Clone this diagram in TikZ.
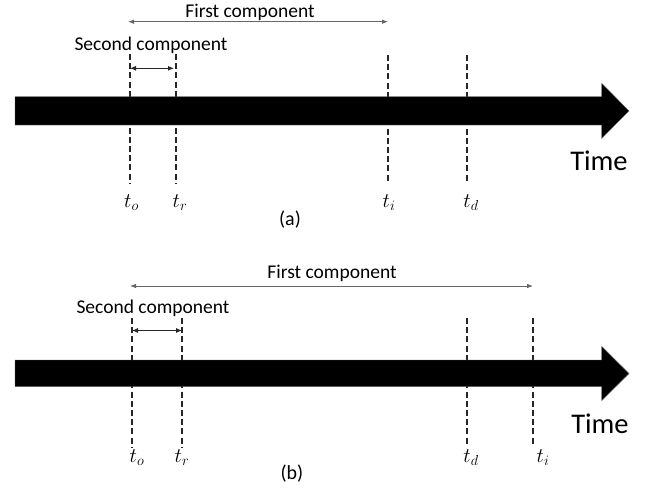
\documentclass[tikz,border=0pt]{standalone}
\usepackage{fontspec}
\setmainfont{Carlito}
\usetikzlibrary{arrows.meta}
\begin{document}
\begin{tikzpicture}[x=1pt,y=-1pt,
  bar/.style={fill=black,draw=black!60,line width=0.4pt},
  guide/.style={draw=black!85,line width=1.5pt,dash pattern=on 6pt off 3.2pt},
  span1/.style={draw=black!60,line width=0.8pt,{Latex[length=6pt,width=4.5pt]}-{Latex[length=6pt,width=4.5pt]}},
  span2/.style={draw=black!85,line width=0.9pt,{Latex[length=6pt,width=5pt]}-{Latex[length=6pt,width=5pt]}},
  lbl/.style={inner sep=0pt,anchor=base,font=\fontsize{19.5}{23}\selectfont},
  tlbl/.style={inner sep=0pt,anchor=base,font=\fontsize{20}{24}\selectfont},
  timelbl/.style={inner sep=0pt,anchor=base,font=\fontsize{28.5}{34}\selectfont},
  caplbl/.style={inner sep=0pt,anchor=center,font=\fontsize{20}{24}\selectfont}
]
\fill[white] (0,0) rectangle (651,491);
\useasboundingbox (0,0) rectangle (651,491);

% ---------------- panel (a) ----------------
\coordinate (ao1) at (130,54);  \coordinate (ao2) at (130,183);
\coordinate (ar1) at (176,54);  \coordinate (ar2) at (176,183);
\coordinate (ai1) at (388,55);  \coordinate (ai2) at (388,183);
\coordinate (ad1) at (467,55);  \coordinate (ad2) at (467,183);
\draw[guide] (ao1) -- (ao2);
\draw[guide] (ar1) -- (ar2);
\draw[guide] (ai1) -- (ai2);
\draw[guide] (ad1) -- (ad2);
\path[bar] (15,96.7) -- (601.7,96.7) -- (601.7,83.3) -- (629,110.9)
  -- (601.7,138.3) -- (601.7,125) -- (15,125) -- cycle;
\coordinate (af1) at (128,21.7); \coordinate (af2) at (388,21.7);
\draw[span1] (af1) -- (af2);
\coordinate (as1) at (130,68.3); \coordinate (as2) at (174,68.3);
\draw[span2] (as1) -- (as2);
\node[lbl] (afirst) at (250,17) {First component};
\node[lbl] (asecond) at (151,50) {Second component};
\node[timelbl] (atime) at (599,170) {Time};
\node[tlbl] (ato) at (131.5,207) {$t_o$};
\node[tlbl] (atr) at (180,207) {$t_r$};
\node[tlbl] (ati) at (389,207) {$t_i$};
\node[tlbl] (atd) at (471,207) {$t_d$};
\node[caplbl] (acap) at (290,220) {(a)};

% ---------------- panel (b) ----------------
\coordinate (bo1) at (132,318);  \coordinate (bo2) at (132,447);
\coordinate (br1) at (182,318);  \coordinate (br2) at (182,447);
\coordinate (bd1) at (467,318);  \coordinate (bd2) at (467,446);
\coordinate (bi1) at (533,318);  \coordinate (bi2) at (533,446);
\draw[guide] (bo1) -- (bo2);
\draw[guide] (br1) -- (br2);
\draw[guide] (bd1) -- (bd2);
\draw[guide] (bi1) -- (bi2);
\path[bar] (15,360) -- (601.7,360) -- (601.7,346.3) -- (629,373.5)
  -- (601.7,400.7) -- (601.7,386.7) -- (15,386.7) -- cycle;
\coordinate (bf1) at (130,286); \coordinate (bf2) at (533,286);
\draw[span1] (bf1) -- (bf2);
\coordinate (bs1) at (132,330.5); \coordinate (bs2) at (182,330.5);
\draw[span2] (bs1) -- (bs2);
\node[lbl] (bfirst) at (332,278.5) {First component};
\node[lbl] (bsecond) at (153,313.3) {Second component};
\node[timelbl] (btime) at (600,433.3) {Time};
\node[tlbl] (bto) at (137,462) {$t_o$};
\node[tlbl] (btr) at (182,462) {$t_r$};
\node[tlbl] (btd) at (471,462) {$t_d$};
\node[tlbl] (bti) at (543,462) {$t_i$};
\node[caplbl] (bcap) at (292,474) {(b)};
\end{tikzpicture}
\end{document}
